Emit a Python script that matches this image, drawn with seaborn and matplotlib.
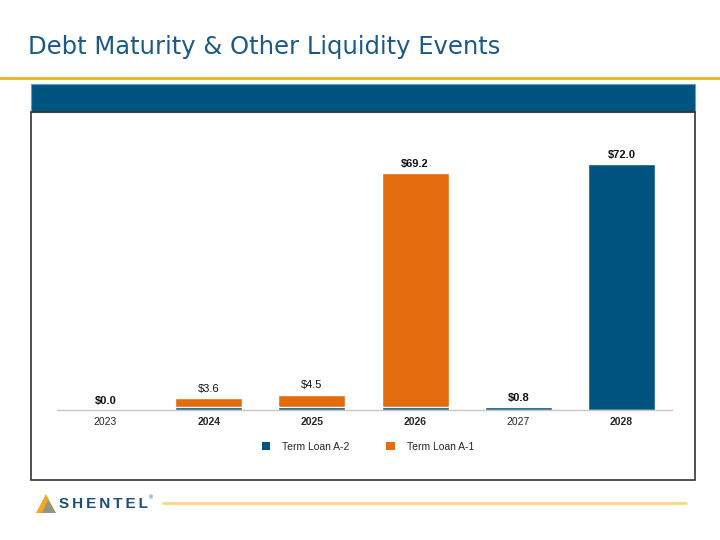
"""
Debt Maturity & Other Liquidity Events - stacked bar chart
"""
import matplotlib
matplotlib.use('Agg')
import matplotlib.pyplot as plt
from matplotlib.patches import Rectangle, Polygon, Patch
from matplotlib.lines import Line2D
import seaborn as sns
import pandas as pd

# data
years = ['2023', '2024', '2025', '2026', '2027', '2028']
term_loan_a2 = [0.0, 0.8, 0.8, 0.8, 0.8, 72.0]
term_loan_a1 = [0.0, 2.8, 3.7, 68.4, 0.0, 0.0]
total_labels = ['$0.0', '$3.6', '$4.5', '$69.2', '$0.8', '$72.0']
label_bold = [True, False, False, True, True, True]
tick_bold = [False, True, True, True, False, True]

BLUE = '#00547F'
ORANGE = '#E36C0E'
TITLE_BLUE = '#1B5A86'

sns.set_theme(style='white')
plt.rcParams['font.family'] = ['Liberation Sans', 'DejaVu Sans']

df = pd.DataFrame({'year': years, 'a2': term_loan_a2, 'a1': term_loan_a1})
df['total'] = df['a2'] + df['a1']

W, H = 720, 540
fig = plt.figure(figsize=(7.2, 5.4), dpi=100)


def fx(px):
    return px / W


def fy(py):
    return 1 - py / H


# title + header decoration
fig.text(fx(28), fy(47), 'Debt Maturity & Other Liquidity Events', fontsize=17.5,
         color=TITLE_BLUE, va='center', ha='left', family='DejaVu Sans')
fig.add_artist(Line2D([0, 1], [fy(78), fy(78)], color='#F3B11B', lw=2,
                      transform=fig.transFigure))
fig.add_artist(Rectangle((fx(31), fy(112)), fx(695) - fx(31), fy(84) - fy(112),
                         facecolor='#005580', edgecolor='#6A9CC0', lw=0.8,
                         transform=fig.transFigure))
fig.add_artist(Rectangle((fx(31), fy(480)), fx(695) - fx(31), fy(112) - fy(480),
                         facecolor='none', edgecolor='#333333', lw=1.2,
                         transform=fig.transFigure))

# chart
ax = fig.add_axes([fx(57), fy(410), fx(672) - fx(57), fy(150) - fy(410)])
sns.barplot(data=df, x='year', y='total', color=ORANGE, saturation=1,
            width=0.65, ax=ax)
sns.barplot(data=df, x='year', y='a2', color=BLUE, saturation=1,
            width=0.65, ax=ax)
ax.set_xlim(-0.47, 5.49)
ax.set_ylim(0, 76)
ax.set_xlabel('')
ax.set_ylabel('')
ax.set_yticks([])
for s in ['top', 'left', 'right']:
    ax.spines[s].set_visible(False)
ax.spines['bottom'].set_color('#C8C8C8')
ax.spines['bottom'].set_linewidth(1)
ax.tick_params(axis='x', length=0, pad=5)
ax.set_xticks(range(len(years)))
ax.set_xticklabels(years, fontsize=7.5)
for lbl, b in zip(ax.get_xticklabels(), tick_bold):
    lbl.set_fontweight('bold' if b else 'normal')
ax.patch.set_alpha(0)

for i, (t, lab, b) in enumerate(zip(df['total'], total_labels, label_bold)):
    ax.annotate(lab, (i, t), xytext=(0, 3), textcoords='offset points',
                ha='center', va='bottom', fontsize=8,
                fontweight='bold' if b else 'normal', color='#111111')

handles = [Patch(facecolor=BLUE, edgecolor='none'),
           Patch(facecolor=ORANGE, edgecolor='none')]
fig.legend(handles, ['Term Loan A-2', 'Term Loan A-1'], ncol=2, frameon=False,
           loc='center', bbox_to_anchor=(fx(368), fy(447)), fontsize=7.5,
           handlelength=0.8, handleheight=0.8, columnspacing=3.5,
           handletextpad=1.2)

# footer logo + line
fig.add_artist(Polygon([[fx(36), fy(513)], [fx(46), fy(494)], [fx(56), fy(513)]],
                       closed=True, facecolor='#F5A623', edgecolor='none',
                       transform=fig.transFigure))
fig.add_artist(Polygon([[fx(42), fy(513)], [fx(48), fy(500)], [fx(56), fy(513)]],
                       closed=True, facecolor='#4A90C0', edgecolor='none',
                       alpha=0.6, transform=fig.transFigure))
fig.text(fx(59), fy(504), '\u2009'.join('SHENTEL'), fontsize=11, fontweight='bold',
         color='#1B4F78', va='center', ha='left')
fig.text(fx(149), fy(498), '®', fontsize=4, color='#1B4F78', va='center')
fig.add_artist(Line2D([fx(163), fx(686)], [fy(503), fy(503)], color='#FCD77E',
                      lw=2, transform=fig.transFigure))

fig.savefig('out.png', dpi=100)
